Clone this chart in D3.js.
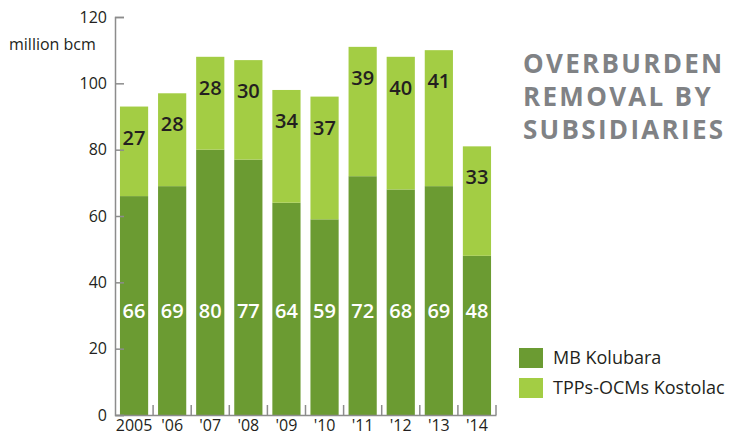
<!DOCTYPE html>
<html>
<head>
<meta charset="utf-8">
<script src="https://cdn.jsdelivr.net/npm/d3@7"></script>
<style>
  body { margin: 0; background: #fff; }
  svg text { font-family: "Open Sans", sans-serif; fill: #231f20; }
</style>
</head>
<body>
<svg width="735" height="437"></svg>
<script>
var years = ['2005', "'06", "'07", "'08", "'09", "'10", "'11", "'12", "'13", "'14"];
var kolubara = [66, 69, 80, 77, 64, 59, 72, 68, 69, 48];
var kostolac = [27, 28, 28, 30, 34, 37, 39, 40, 41, 33];
var yTicks = [0, 20, 40, 60, 80, 100, 120];
var seriesNames = ['MB Kolubara', 'TPPs-OCMs Kostolac'];
var colors = ['#6b9b32', '#a3cd44'];

var svg = d3.select('svg');
var axisColor = '#8c8c8c';

var x = d3.scaleBand()
    .domain(years)
    .range([115, 496])
    .paddingInner(0.26)
    .paddingOuter(0.13);

var y = d3.scaleLinear()
    .domain([0, 120])
    .range([415, 17]);

var data = years.map(function(yr, i) {
  return {year: yr, a: kolubara[i], b: kostolac[i]};
});

// bars - dark (bottom) then light (top)
svg.selectAll('.bar-a')
    .data(data)
  .enter().append('rect')
    .attr('x', function(d) { return x(d.year); })
    .attr('width', x.bandwidth())
    .attr('y', function(d) { return y(d.a); })
    .attr('height', function(d) { return y(0) - y(d.a); })
    .attr('fill', colors[0]);

svg.selectAll('.bar-b')
    .data(data)
  .enter().append('rect')
    .attr('x', function(d) { return x(d.year); })
    .attr('width', x.bandwidth())
    .attr('y', function(d) { return y(d.a + d.b); })
    .attr('height', function(d) { return y(d.a) - y(d.a + d.b); })
    .attr('fill', colors[1]);

// value labels
svg.selectAll('.lab-a')
    .data(data)
  .enter().append('text')
    .attr('x', function(d) { return x(d.year) + x.bandwidth() / 2; })
    .attr('y', y(31.5))
    .attr('dy', '0.35em')
    .attr('text-anchor', 'middle')
    .style('fill', '#fff')
    .style('font-size', '20px')
    .style('font-weight', 600)
    .text(function(d) { return d.a; });

svg.selectAll('.lab-b')
    .data(data)
  .enter().append('text')
    .attr('x', function(d) { return x(d.year) + x.bandwidth() / 2; })
    .attr('y', function(d) { return y(d.a + d.b) + 31; })
    .attr('dy', '0.35em')
    .attr('text-anchor', 'middle')
    .style('font-size', '20px')
    .style('font-weight', 600)
    .text(function(d) { return d.b; });

// y axis
var yAxis = svg.append('g')
    .attr('transform', 'translate(115,0)')
    .call(d3.axisRight(y).tickValues(yTicks).tickSize(9).tickFormat(d3.format('d')));
yAxis.select('.domain').attr('stroke', axisColor).attr('stroke-width', 1.5);
yAxis.selectAll('.tick line').attr('stroke', axisColor).attr('stroke-width', 1.5);
yAxis.selectAll('.tick text')
    .attr('x', -8)
    .attr('text-anchor', 'end')
    .style('font-size', '16px')
    .style('fill', '#231f20');

// x axis
var xAxis = svg.append('g')
    .attr('transform', 'translate(0,415)')
    .call(d3.axisBottom(x).tickSize(0).tickSizeOuter(0));
xAxis.select('.domain').attr('stroke', axisColor).attr('stroke-width', 1.5);
xAxis.selectAll('.tick text')
    .attr('y', 5)
    .style('font-size', '16px')
    .style('fill', '#231f20');

// separator ticks between bars
var half = (x.step() - x.bandwidth()) / 2;
svg.selectAll('.sep')
    .data(years)
  .enter().append('line')
    .attr('x1', function(d) { return x(d) + x.bandwidth() + half; })
    .attr('x2', function(d) { return x(d) + x.bandwidth() + half; })
    .attr('y1', 415)
    .attr('y2', 405)
    .attr('stroke', axisColor)
    .attr('stroke-width', 1.5);

// unit label
svg.append('text')
    .attr('x', 9)
    .attr('y', 50)
    .style('font-size', '16px')
    .text('million bcm');

// title
var title = ['OVERBURDEN', 'REMOVAL BY', 'SUBSIDIARIES'];
svg.append('g').selectAll('text')
    .data(title)
  .enter().append('text')
    .attr('x', 523)
    .attr('y', function(d, i) { return 73 + i * 33; })
    .style('font-size', '26px')
    .style('font-weight', 700)
    .style('letter-spacing', '2.3px')
    .style('fill', '#808285')
    .text(function(d) { return d; });

// legend
var legend = svg.append('g').selectAll('g')
    .data(seriesNames)
  .enter().append('g')
    .attr('transform', function(d, i) { return 'translate(519,' + (348 + i * 30) + ')'; });
legend.append('rect')
    .attr('width', 24)
    .attr('height', 20)
    .attr('fill', function(d, i) { return colors[i]; });
legend.append('text')
    .attr('x', 34)
    .attr('y', 10)
    .attr('dy', '0.35em')
    .style('font-size', '18px')
    .text(function(d) { return d; });
</script>
</body>
</html>
